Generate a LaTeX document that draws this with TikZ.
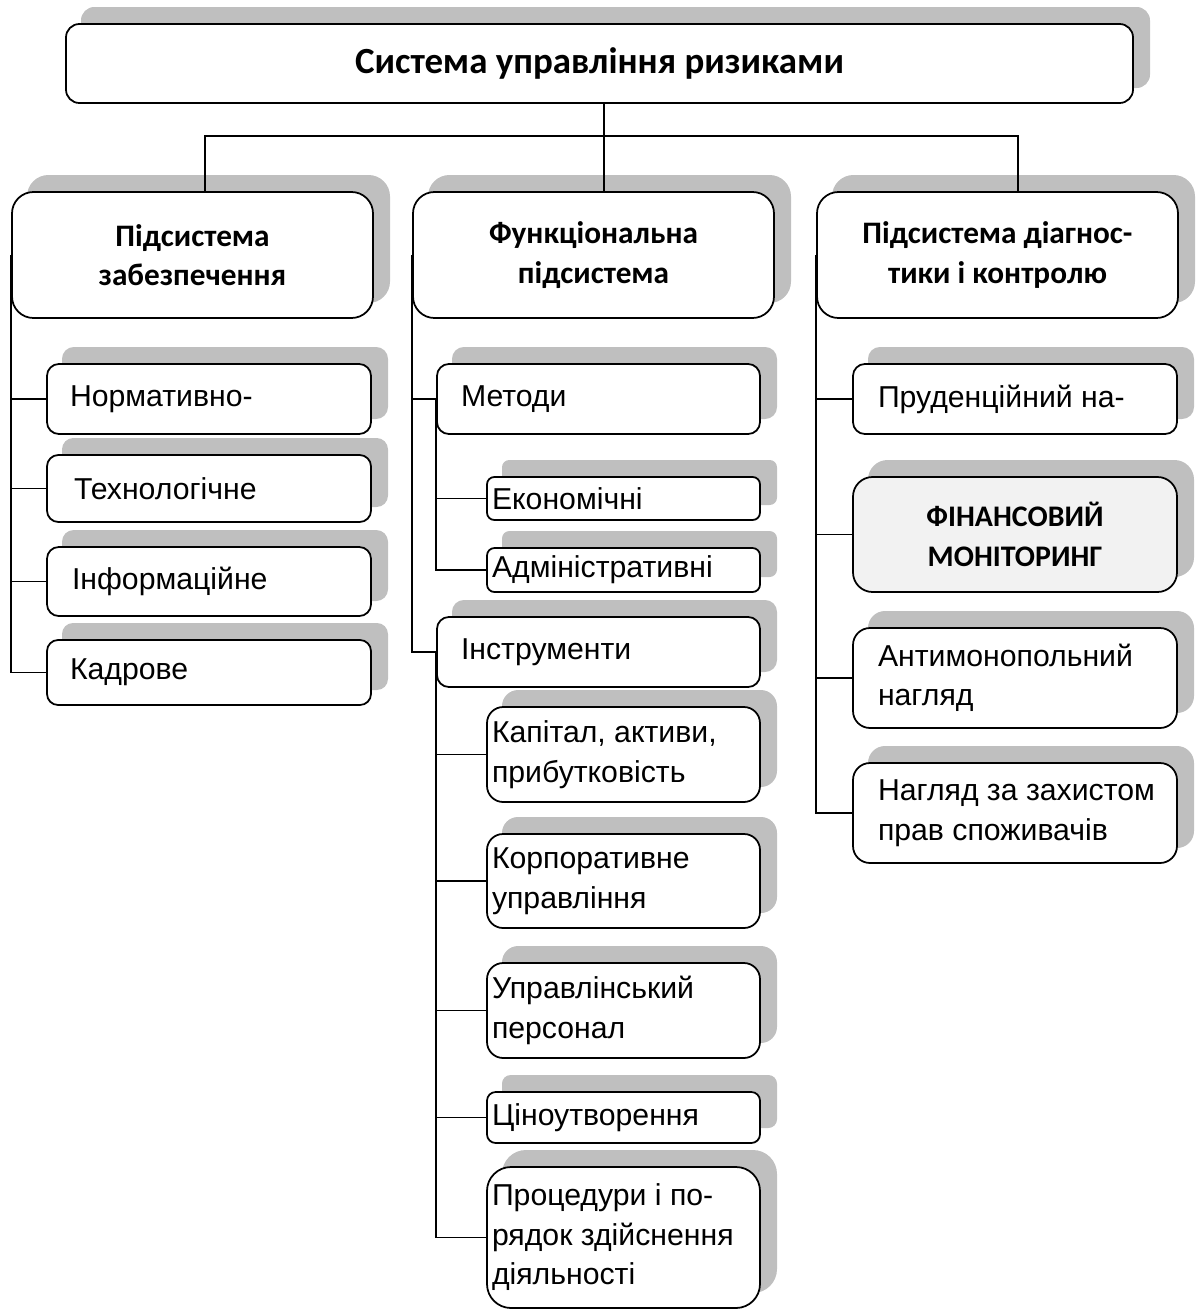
\documentclass[tikz,border=0pt]{standalone}
\usepackage{fontspec}
\setmainfont{Liberation Sans}
\newfontfamily\hdfont{Carlito}
\definecolor{shd}{RGB}{191,191,191}
\definecolor{finfill}{RGB}{242,242,242}
\pgfdeclarelayer{shadowlayer}
\pgfdeclarelayer{connlayer}
\pgfsetlayers{shadowlayer,connlayer,main}
\tikzset{
  boxst/.style={draw=black, line width=1pt, fill=white, inner ysep=0pt, inner xsep=0.1cm,
    font=\fontsize{17.2}{22.5}\selectfont},
  hdst/.style={font=\hdfont\bfseries\fontsize{17.8}{22.5}\selectfont},
  shadowfill/.style={fill=shd},
  conn/.style={draw=black, line width=1.05pt}
}
% #1 opts, #2 name, #3 x1, #4 y1, #5 x2, #6 y2, #7 left pad, #8 text
\newcommand\shbox[8][]{%
  \pgfmathsetlengthmacro\shr{0.17*(#6-#4)*0.02cm}%
  \pgfmathsetlengthmacro\shh{(#6-#4)*0.02cm}%
  \pgfmathsetlengthmacro\shw{(#5-#3-#7-5)*0.02cm}%
  \pgfmathsetlengthmacro\shq{(#7-5)*0.02cm}%
  \begin{pgfonlayer}{shadowlayer}
    \fill[shadowfill, rounded corners=\shr] (#3+15,#4-17) rectangle (#5+17,#6-15);
  \end{pgfonlayer}
  \node[boxst, rounded corners=\shr, minimum height=\shh, #1]
    (#2) at ({(#3+#5)/2},{(#4+#6)/2}) {\hspace*{\shq}\parbox[c]{\shw}{\raggedright #8}};
}
\begin{document}
\begin{tikzpicture}[x=0.02cm,y=-0.02cm]
\useasboundingbox (0,0) rectangle (1196,1312);

% top
\shbox[font=\hdfont\bfseries\fontsize{21}{25}\selectfont]{top}{66}{24}{1133}{103}{5}{\centering Система управління ризиками}

% level 2
\shbox[hdst]{L}{12}{192}{373}{318}{5}{\centering Підсистема\\забезпечення}
\shbox[hdst]{M}{413}{192}{774}{318}{5}{\centering Функціональна\\підсистема}
\shbox[hdst]{R}{817}{192}{1178}{318}{5}{\centering Підсистема діагнос-\\тики і контролю}

% left column
\shbox{n1}{47}{364}{371}{434}{23}{Нормативно-}
\shbox{n2}{47}{455}{371}{522}{27}{Технологічне}
\shbox{n3}{47}{547}{371}{616}{25}{Інформаційне}
\shbox{n4}{47}{640}{371}{705}{23}{Кадрове}

% middle column
\shbox{met}{437}{364}{760}{434}{24}{Методи}
\shbox{eco}{487}{477}{760}{520}{5}{Економічні}
\shbox{adm}{487}{548}{760}{592}{5}{Адміністративні}
\shbox{ins}{437}{617}{760}{687}{24}{Інструменти}
\shbox{kap}{487}{707}{760}{802}{5}{Капітал, активи,\\прибутковість}
\shbox{korp}{487}{834}{760}{928}{5}{Корпоративне\\управління}
\shbox{upr}{487}{963}{760}{1058}{5}{Управлінський\\персонал}
\shbox{cin}{487}{1092}{760}{1143}{5}{Ціноутворення}
\shbox{proc}{487}{1167}{760}{1308}{5}{Процедури і по-\\рядок здійснення\\діяльності}

% right column
\shbox{pru}{853}{364}{1177}{434}{25}{Пруденційний на-}
\shbox[font=\hdfont\bfseries\fontsize{17}{22.5}\selectfont, fill=finfill]{fin}{853}{477}{1177}{592}{5}{\centering ФІНАНСОВИЙ\\МОНІТОРИНГ}
\shbox{anti}{853}{628}{1177}{728}{25}{Антимонопольний\\нагляд}
\shbox{nag}{853}{763}{1177}{863}{25}{Нагляд за захистом\\прав споживачів}

\begin{pgfonlayer}{connlayer}
  \coordinate (ha) at (205,136);
  \coordinate (hb) at (604,136);
  \coordinate (hc) at (1018,136);
  \draw[conn] (top.south -| hb) -- (hb |- M.north);
  \draw[conn] (ha |- L.north) -- (ha) -- (hc) -- (hc |- R.north);
  % left
  \foreach \t in {n1,n2,n3,n4} \draw[conn] (L.west) |- (\t.west);
  % middle
  \foreach \t in {met,ins} \draw[conn] (M.west) |- (\t.west);
  \foreach \t in {eco,adm} \draw[conn] (met.west) |- (\t.west);
  \foreach \t in {kap,korp,upr,cin,proc} \draw[conn] (ins.west) |- (\t.west);
  % right
  \foreach \t in {pru,fin,anti,nag} \draw[conn] (R.west) |- (\t.west);
\end{pgfonlayer}
\end{tikzpicture}
\end{document}
